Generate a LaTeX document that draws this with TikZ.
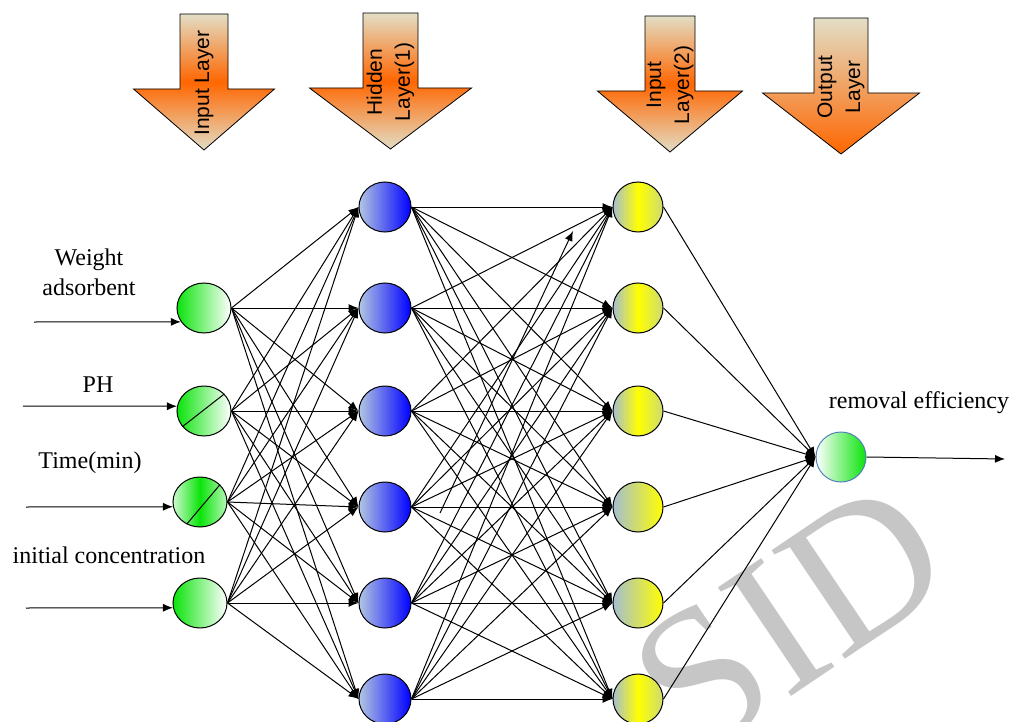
\documentclass[tikz,border=0pt]{standalone}
\usepackage{fontspec}
\setmainfont{Liberation Serif}
\newfontfamily\arrowfont{Liberation Sans}
\usepackage{tikz}
\usetikzlibrary{shapes.geometric}
\usetikzlibrary{arrows.meta}
\definecolor{arrlight}{RGB}{226,222,198}
\definecolor{arrorange}{RGB}{255,102,0}
\definecolor{ngreen}{RGB}{10,228,10}
\definecolor{hidleft}{RGB}{178,198,226}
\definecolor{hidright}{RGB}{0,0,255}
\definecolor{secleft}{RGB}{165,190,208}
\definecolor{secyellow}{RGB}{255,255,0}
\definecolor{outborder}{RGB}{79,129,189}
\tikzset{
    midshade/.style={top color=arrlight, bottom color=arrlight, middle color=arrorange},
    endshade/.style={top color=arrlight, bottom color=arrorange},
    layertext/.style={rotate=90, align=center, font=\arrowfont\fontsize{10.5}{14}\selectfont},
    labeltext/.style={align=center, font=\fontsize{12}{15}\selectfont},
    neuron/.style={draw, ellipse, line width=0.5pt, inner sep=0pt, minimum height=25pt},
    innode/.style={neuron, minimum width=27pt, left color=ngreen, right color=white},
    midgreen/.style={neuron, minimum width=27pt, left color=ngreen!20, right color=ngreen!30, middle color=ngreen},
    hidnode/.style={neuron, minimum width=26pt, left color=hidleft, right color=hidright},
    secnode/.style={neuron, minimum width=25pt, left color=secleft, right color=secleft!55!secyellow, middle color=secyellow},
    secnodeb/.style={neuron, minimum width=25pt, left color=secleft, right color=secyellow},
    outnode/.style={neuron, draw=outborder, minimum width=25pt, left color=white, right color=ngreen},
    conn/.style={line width=0.5pt, -{Latex[length=5pt,width=4pt]}},
    pics/layerarrow/.style args={#1/#2/#3/#4}{
    code = {
        \path[draw=black, line width=0.4pt, #4]
            (-#1,0) -- (#1,0) -- (#1,75) -- (#2,75) -- (0,136) -- (-#2,75) -- (-#1,75) -- cycle;
        \node[layertext] at (0,69) {#3};
    }}
}

\begin{document}
\begin{tikzpicture}[x=0.5pt,y=-0.5pt]
    \useasboundingbox (0,0) rectangle (1012,722);

    % watermark
    \node[rotate=34, text=gray!45, font=\fontsize{100}{104}\selectfont] (mark) at (790,618) {SID};

    % layer arrows
    \pic at (204,14) {layerarrow={24/70.5/Input Layer/midshade}};
    \pic at (390.5,13) {layerarrow={27.5/81/Hidden\\Layer(1)/midshade}};
    \pic at (670,16) {layerarrow={25/72.5/Input\\Layer(2)/midshade}};
    \pic at (841,18) {layerarrow={27/78.5/Output\\Layer/endshade}};

    % neurons
    \node[innode] (in1) at (204,308) {};
    \node[innode] (in2) at (204,411) {};
    \node[midgreen] (in3) at (200,502) {};
    \node[innode] (in4) at (200,603) {};

    \node[hidnode] (hid1) at (385,207) {};
    \node[hidnode] (hid2) at (385,308) {};
    \node[hidnode] (hid3) at (385,411) {};
    \node[hidnode] (hid4) at (385,507) {};
    \node[hidnode] (hid5) at (385,603) {};
    \node[hidnode] (hid6) at (385,699) {};

    \node[secnode] (sec1) at (638,207) {};
    \node[secnode] (sec2) at (638,308) {};
    \node[secnode] (sec3) at (638,411) {};
    \node[secnodeb] (sec4) at (638,507) {};
    \node[secnodeb] (sec5) at (638,603) {};
    \node[secnode] (sec6) at (638,699) {};

    \node[outnode] (out) at (841,457) {};

    \draw[line width=0.5pt] (in2.216) -- (in2.40);
    \draw[line width=0.5pt] (in3.239) -- (in3.41);

    % labels
    \node[labeltext] (lab1) at (89,272) {Weight\\adsorbent};
    \node[labeltext] (lab2) at (98,385) {PH};
    \node[labeltext] (lab3) at (90,463) {Time(min)};
    \node[labeltext] (lab4) at (109,555) {initial concentration};
    \node[labeltext] (lab5) at (919,403) {removal efficiency};

    % arrows
    \coordinate (w1) at (34,322);
    \coordinate (w2) at (23,406);
    \coordinate (w3) at (26,507);
    \coordinate (w4) at (26,608);
    \draw[conn] (w1) -- (in1.211);
    \draw[conn] (w2) -- (in2.170);
    \draw[conn] (w3) -- (in3.190);
    \draw[conn] (w4) -- (in4.190);

    \foreach \i in {1,...,4}
        \foreach \j in {1,...,6}
            \draw[conn] (in\i.east) -- (hid\j.west);

    \foreach \i in {1,...,6}
        \foreach \j in {1,...,6}
            \draw[conn] (hid\i.east) -- (sec\j.west);

    \foreach \i in {1,...,6}
        \draw[conn] (sec\i.east) -- (out.west);

    \coordinate (stray a) at (440,513);
    \coordinate (stray b) at (573,231);
    \draw[conn] (stray a) -- (stray b);

    \coordinate (outend) at (1005,459);
    \draw[conn] (out.east) -- (outend);
\end{tikzpicture}
\end{document}
